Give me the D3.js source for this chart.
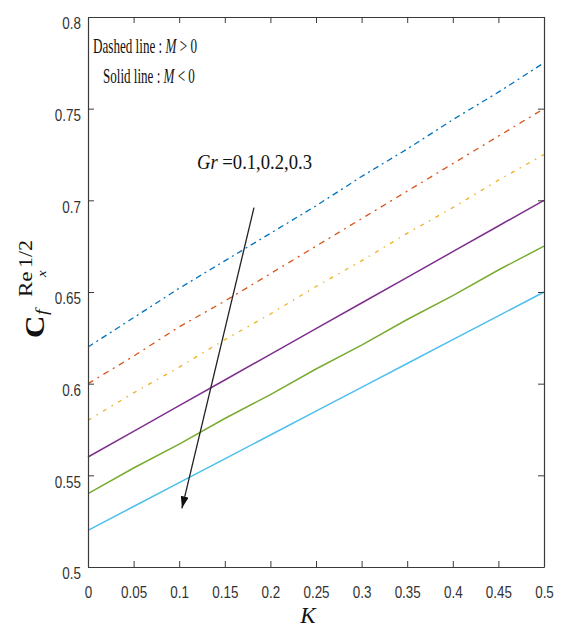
<!DOCTYPE html>
<html>
<head>
<meta charset="utf-8">
<script src="https://cdn.jsdelivr.net/npm/d3@7"></script>
<style>
  html, body { margin: 0; padding: 0; background: #fff; }
  svg { display: block; }
</style>
</head>
<body>
<svg id="chart" width="561" height="628"></svg>
<script>
// Skin friction coefficient C_f Re_x^{1/2} versus K for Gr = 0.1, 0.2, 0.3
const kValues = [0, 0.05, 0.1, 0.15, 0.2, 0.25, 0.3, 0.35, 0.4, 0.45, 0.5];

// M > 0 (dashed)
const mPosGr01 = [0.620, 0.636, 0.652, 0.667, 0.682, 0.697, 0.713, 0.728, 0.744, 0.759, 0.775];
const mPosGr02 = [0.600, 0.615, 0.631, 0.645, 0.660, 0.675, 0.690, 0.705, 0.720, 0.735, 0.750];
const mPosGr03 = [0.580, 0.595, 0.609, 0.624, 0.638, 0.653, 0.667, 0.682, 0.696, 0.711, 0.725];
// M < 0 (solid)
const mNegGr01 = [0.560, 0.574, 0.588, 0.602, 0.616, 0.630, 0.644, 0.658, 0.672, 0.686, 0.700];
const mNegGr02 = [0.540, 0.554, 0.567, 0.581, 0.594, 0.608, 0.621, 0.635, 0.648, 0.662, 0.675];
const mNegGr03 = [0.520, 0.533, 0.546, 0.559, 0.572, 0.585, 0.598, 0.611, 0.624, 0.637, 0.650];

const xTickValues = [0, 0.05, 0.1, 0.15, 0.2, 0.25, 0.3, 0.35, 0.4, 0.45, 0.5];
const xTickLabels = ["0", "0.05", "0.1", "0.15", "0.2", "0.25", "0.3", "0.35", "0.4", "0.45", "0.5"];
const yTickValues = [0.5, 0.55, 0.6, 0.65, 0.7, 0.75, 0.8];
const yTickLabels = ["0.5", "0.55", "0.6", "0.65", "0.7", "0.75", "0.8"];

const series = [
  { values: mPosGr01, color: "#0072BD", dash: "6,4,2,4", width: 1.3 },
  { values: mPosGr02, color: "#D95319", dash: "6,5,2,5", width: 1.3 },
  { values: mPosGr03, color: "#EDB120", dash: "4,6,1.5,6", width: 1.3 },
  { values: mNegGr01, color: "#7E2F8E", dash: null, width: 1.5 },
  { values: mNegGr02, color: "#77AC30", dash: null, width: 1.5 },
  { values: mNegGr03, color: "#4DBEEE", dash: null, width: 1.5 }
];

const svg = d3.select("#chart");
const plotLeft = 88, plotRight = 544, plotTop = 17, plotBottom = 567;
const x = d3.scaleLinear().domain([0, 0.5]).range([plotLeft, plotRight]);
const y = d3.scaleLinear().domain([0.5, 0.8]).range([plotBottom, plotTop]);

const axisColor = "#3a3a3a";
const sansFont = "'Liberation Sans', Arial, sans-serif";
const serifFont = "'Liberation Serif', 'Times New Roman', serif";

// squeeze single-run text horizontally, keeping its anchor
function narrowText(sel, factor) {
  sel.each(function () {
    const w = this.getComputedTextLength();
    this.setAttribute("textLength", (w * factor).toFixed(2));
    this.setAttribute("lengthAdjust", "spacingAndGlyphs");
  });
}
// place a text block so that it spans the given width
function fitText(textSel, x0, y0, width) {
  const w = textSel.node().getBBox().width;
  textSel.attr("transform", `translate(${x0},${y0}) scale(${width / w},1)`);
}

// curves
const line = d3.line()
  .x((d, i) => x(kValues[i]))
  .y(d => y(d));

svg.append("g")
  .selectAll("path")
  .data(series)
  .join("path")
  .attr("d", s => line(s.values))
  .attr("fill", "none")
  .attr("stroke", s => s.color)
  .attr("stroke-width", s => s.width)
  .attr("stroke-dasharray", s => s.dash);

// axes with inward ticks on all four sides
function styleAxis(g) {
  g.selectAll("path.domain").attr("stroke", axisColor).attr("stroke-width", 1.2);
  g.selectAll(".tick line").attr("stroke", axisColor).attr("stroke-width", 1);
}

const gx = svg.append("g")
  .attr("transform", `translate(0,${plotBottom})`)
  .call(d3.axisBottom(x).tickValues(xTickValues)
    .tickFormat((d, i) => xTickLabels[i])
    .tickSizeInner(-6).tickSizeOuter(0).tickPadding(19));
gx.call(styleAxis);
gx.selectAll(".tick text")
  .attr("font-family", sansFont).attr("font-size", 17).attr("fill", "#333");

const gy = svg.append("g")
  .attr("transform", `translate(${plotLeft},0)`)
  .call(d3.axisLeft(y).tickValues(yTickValues)
    .tickFormat((d, i) => yTickLabels[i])
    .tickSizeInner(-6).tickSizeOuter(0).tickPadding(7));
gy.call(styleAxis);
gy.selectAll(".tick text")
  .attr("font-family", sansFont).attr("font-size", 17).attr("fill", "#333")
  .attr("dy", "0.69em");

const gTop = svg.append("g")
  .attr("transform", `translate(0,${plotTop})`)
  .call(d3.axisTop(x).tickValues(xTickValues).tickFormat("")
    .tickSizeInner(-6).tickSizeOuter(0));
gTop.call(styleAxis);

const gRight = svg.append("g")
  .attr("transform", `translate(${plotRight},0)`)
  .call(d3.axisRight(y).tickValues(yTickValues).tickFormat("")
    .tickSizeInner(-6).tickSizeOuter(0));
gRight.call(styleAxis);

narrowText(gx.selectAll(".tick text"), 0.79);
narrowText(gy.selectAll(".tick text"), 0.79);

// x label
svg.append("text")
  .attr("x", 308).attr("y", 623)
  .attr("text-anchor", "middle")
  .attr("font-family", serifFont).attr("font-style", "italic")
  .attr("font-size", 23).attr("fill", "#111")
  .text("K");

// y label: C_f Re_x^{1/2}
const yl = svg.append("g")
  .attr("transform", "translate(44,338) rotate(-90) scale(1,0.86)")
  .attr("font-family", serifFont).attr("fill", "#111");
yl.append("text").attr("x", 0).attr("y", 0)
  .attr("font-size", 31).attr("font-weight", "bold").text("C");
yl.append("text").attr("x", 23).attr("y", 4)
  .attr("font-size", 20).attr("font-style", "italic").text("f");
yl.append("text").attr("x", 41).attr("y", -14)
  .attr("font-size", 23).text("Re");
yl.append("text").attr("x", 61).attr("y", 2)
  .attr("font-size", 15).attr("font-style", "italic").text("x");
yl.append("text").attr("x", 70).attr("y", -14)
  .attr("font-size", 22).text("1/2");

// legend notes
const note1 = svg.append("text")
  .attr("font-family", serifFont).attr("font-size", 20).attr("fill", "#111");
note1.append("tspan").text("Dashed line : ");
note1.append("tspan").attr("font-style", "italic").text("M");
note1.append("tspan").text(" > 0");
fitText(note1, 93, 53, 104);

const note2 = svg.append("text")
  .attr("font-family", serifFont).attr("font-size", 20).attr("fill", "#111");
note2.append("tspan").text("Solid line : ");
note2.append("tspan").attr("font-style", "italic").text("M");
note2.append("tspan").text(" < 0");
fitText(note2, 103, 83, 92);

// Gr annotation with arrow
const grText = svg.append("text")
  .attr("font-family", serifFont).attr("font-size", 20).attr("fill", "#111");
grText.append("tspan").attr("font-style", "italic").text("Gr");
grText.append("tspan").text(" =0.1,0.2,0.3");
fitText(grText, 197, 169, 115);

svg.append("defs").append("marker")
  .attr("id", "arrowHead")
  .attr("viewBox", "0 0 12 8")
  .attr("refX", 12).attr("refY", 4)
  .attr("markerWidth", 12).attr("markerHeight", 8)
  .attr("markerUnits", "userSpaceOnUse")
  .attr("orient", "auto")
  .append("path").attr("d", "M0,0 L12,4 L0,8 Z").attr("fill", "#111");

const arrowFrom = { k: 0.182, v: 0.696 };
const arrowTo = { k: 0.103, v: 0.532 };
svg.append("line")
  .attr("x1", x(arrowFrom.k)).attr("y1", y(arrowFrom.v))
  .attr("x2", x(arrowTo.k)).attr("y2", y(arrowTo.v))
  .attr("stroke", "#222").attr("stroke-width", 1.3)
  .attr("marker-end", "url(#arrowHead)");
</script>
</body>
</html>
